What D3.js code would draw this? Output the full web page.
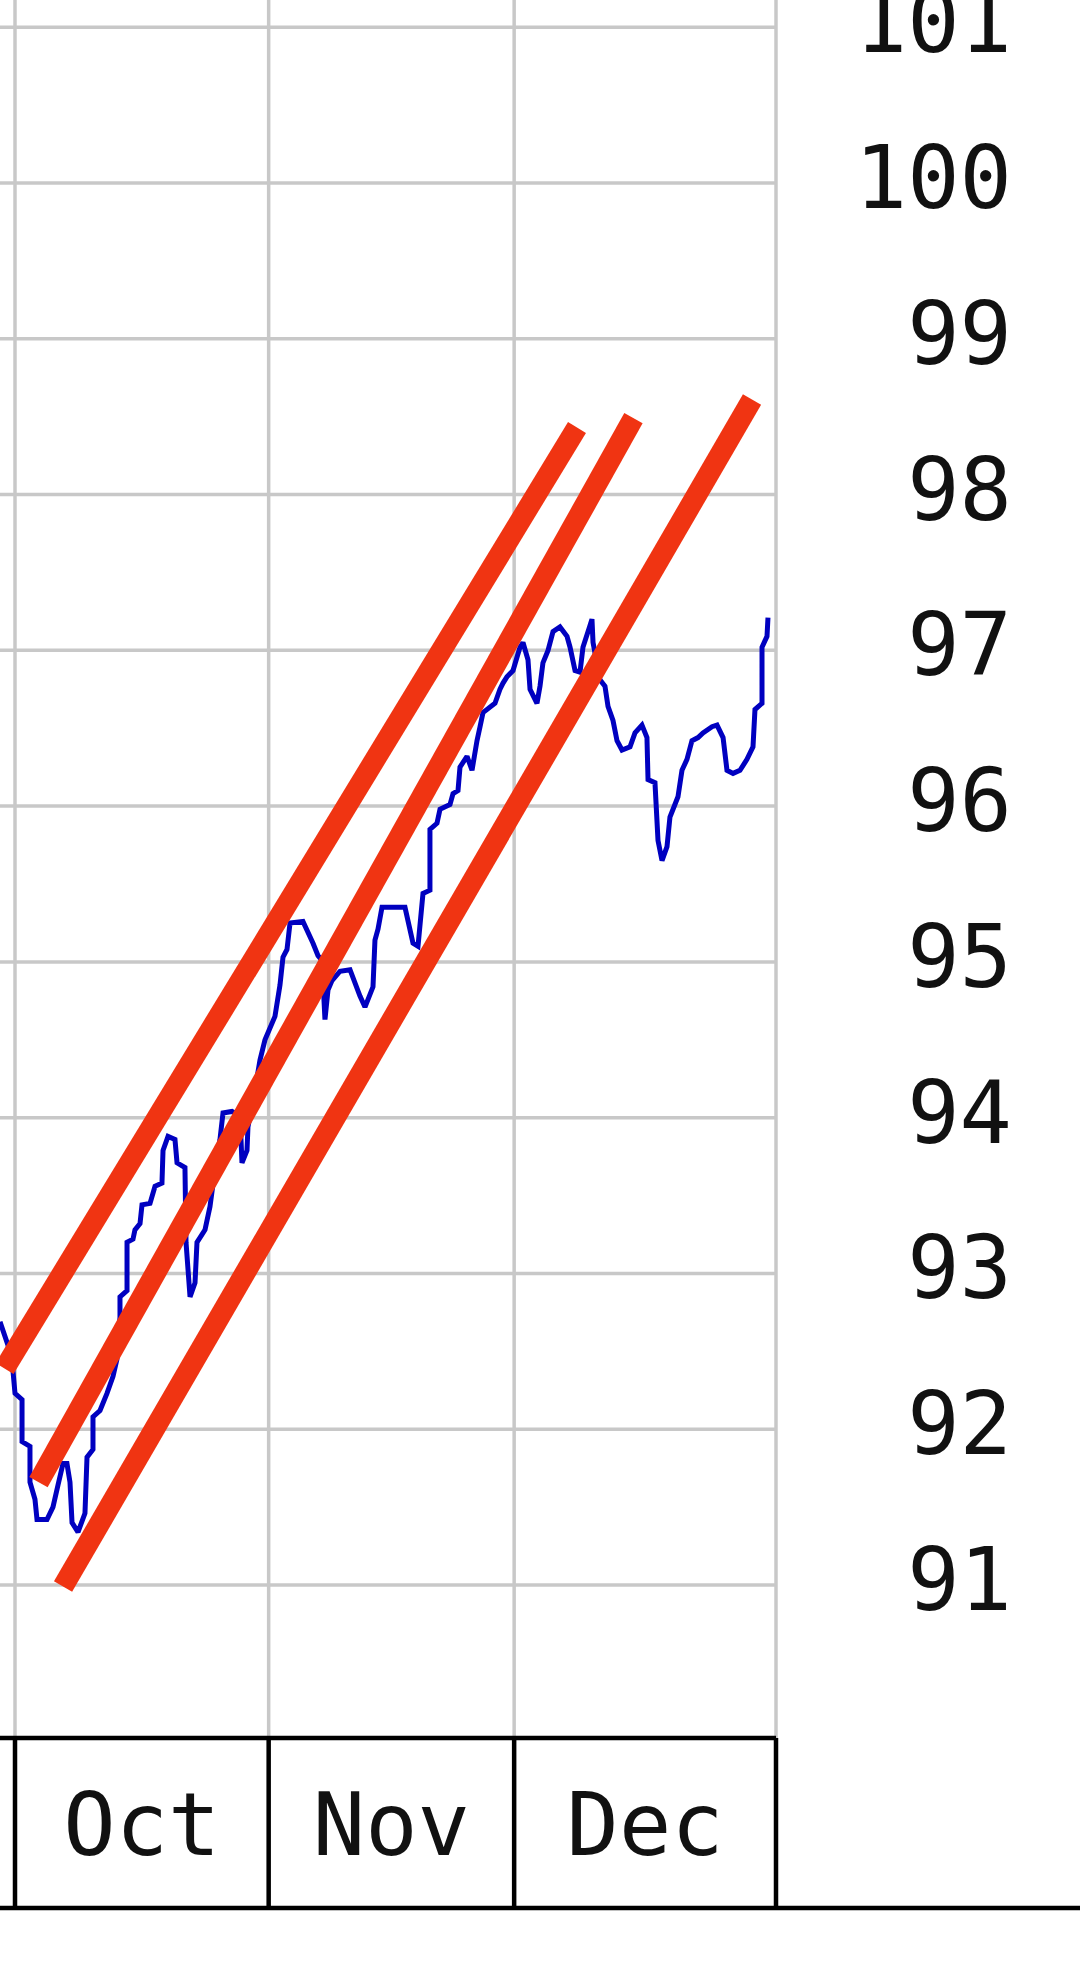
<!DOCTYPE html>
<html><head><meta charset="utf-8">
<script src="https://cdn.jsdelivr.net/npm/d3@7"></script>
<style>html,body{margin:0;padding:0;background:#fff;overflow:hidden;} svg{display:block;}</style>
</head><body><svg id="chart" width="1080" height="1975"></svg>
<script>
// ---- data ----
const monthLabels = ["Oct", "Nov", "Dec"];
const monthStarts = ["2017-10-01", "2017-11-01", "2017-12-01"];
const axisEnd = "2018-01-02";
const yTicks = [91, 92, 93, 94, 95, 96, 97, 98, 99, 100, 101];

// days after Oct 1 (fractional, intraday) and price
const dayOffsets = [-1.83,-0.86,-0.24,0,0.86,0.86,1.83,1.83,2.44,2.69,3.91,4.64,5.25,5.87,6.35,6.72,6.97,7.70,8.55,8.80,
  9.53,9.53,10.39,11.24,11.98,12.46,12.83,12.83,13.69,13.69,14.42,14.66,15.28,15.52,16.50,17.11,17.96,18.09,18.70,19.55,
  19.80,20.77,20.90,21.39,22.00,22.24,23.22,23.83,24.44,25.05,25.42,26.52,27.50,27.74,28.35,28.47,29.33,29.94,30.55,31.77,
  32.38,32.75,33.24,33.61,35.19,36.42,37.03,37.52,37.88,38.25,38.74,39.72,40.94,42.16,42.77,43.75,43.99,44.36,44.85,47.66,
  48.64,49.25,49.86,50.71,50.71,51.57,51.94,53.16,53.53,54.14,54.38,55.24,55.85,56.46,56.83,57.19,58.66,59.27,59.64,60.12,
  60.86,61.71,62.08,62.69,62.94,63.79,64.16,64.52,65.14,65.75,66.60,67.46,67.83,68.44,69.05,69.41,70.27,70.51,70.64,71.49,
  72.10,72.47,73.08,73.57,74.18,75.16,75.77,76.62,77.23,77.36,78.21,78.58,79.07,79.68,80.04,81.02,81.51,82.12,82.73,83.47,
  84.08,85.18,85.79,86.53,87.01,87.75,88.60,89.45,90.19,90.43,91.29,91.29,91.90,92.02];
const closeValues = [92.69,92.54,92.37,92.23,92.19,91.92,91.89,91.66,91.55,91.42,91.42,91.50,91.64,91.78,91.78,91.66,91.40,91.34,91.46,91.82,
  91.87,92.08,92.12,92.23,92.34,92.45,92.72,92.85,92.89,93.20,93.22,93.28,93.32,93.44,93.45,93.56,93.58,93.79,93.88,93.86,
  93.71,93.68,93.20,92.85,92.94,93.20,93.28,93.43,93.67,93.86,94.03,94.04,94.01,93.71,93.79,93.94,94.18,94.37,94.50,94.65,
  94.85,95.03,95.08,95.25,95.26,95.12,95.04,95.01,94.63,94.82,94.88,94.94,94.95,94.78,94.71,94.84,95.14,95.21,95.35,95.35,
  95.12,95.10,95.44,95.46,95.85,95.89,95.98,96.01,96.08,96.10,96.25,96.32,96.23,96.42,96.51,96.60,96.66,96.75,96.79,96.83,
  96.87,97.02,97.05,96.94,96.75,96.66,96.77,96.92,97.00,97.12,97.15,97.09,97.02,96.87,96.86,97.02,97.16,97.20,97.05,96.81,
  96.77,96.64,96.55,96.42,96.36,96.38,96.47,96.52,96.44,96.17,96.15,95.78,95.65,95.74,95.93,96.06,96.23,96.30,96.42,96.44,
  96.47,96.51,96.52,96.44,96.23,96.21,96.23,96.30,96.38,96.62,96.66,97.02,97.09,97.21];

// hand-drawn channel lines
const channelStartDay = [-1.28, 2.87, 5.87];
const channelStartValue = [92.39, 91.66, 90.99];
const channelEndDay = [68.68, 75.58, 90.07];
const channelEndValue = [98.43, 98.49, 98.61];

// ---- layout ----
const W = 1080;
const plotLeft = 15, plotRight = 776, plotBottom = 1738, boxBottom = 1908;
const parse = d3.utcParse("%Y-%m-%d");
const base = parse(monthStarts[0]);
const toDate = d => new Date(base.getTime() + d * 864e5);
const endDate = parse(axisEnd);
const x = d3.scaleUtc().domain([base, endDate]).range([plotLeft, plotRight]);
const y = d3.scaleLinear().domain([91, 100]).range([1585, 183]);

const svg = d3.select("#chart");
const font = "'DejaVu Sans Mono', 'Liberation Mono', monospace";

svg.append("rect").attr("width", W).attr("height", 1975).attr("fill", "#fff");

// gridlines
const grid = svg.append("g").attr("stroke", "#c8c8c8").attr("stroke-width", 3.5);
grid.selectAll("line.h").data(yTicks).join("line")
  .attr("x1", 0).attr("x2", plotRight)
  .attr("y1", d => y(d)).attr("y2", d => y(d));
const boundaries = monthStarts.map(parse).concat([endDate]);
grid.selectAll("line.v").data(boundaries).join("line")
  .attr("x1", d => x(d)).attr("x2", d => x(d))
  .attr("y1", 0).attr("y2", plotBottom);

// clip
svg.append("clipPath").attr("id", "plotclip").append("rect")
  .attr("x", 0).attr("y", 0).attr("width", plotRight).attr("height", plotBottom);

// price line
const pts = dayOffsets.map((d, i) => [toDate(d), closeValues[i]]);
const line = d3.line().x(d => x(d[0])).y(d => y(d[1]));
svg.append("path").attr("clip-path", "url(#plotclip)")
  .attr("d", line(pts)).attr("fill", "none")
  .attr("stroke", "#0000c0").attr("stroke-width", 5)
  .attr("stroke-linejoin", "miter").attr("stroke-miterlimit", 2);

// channel lines
svg.append("g").selectAll("line").data(channelStartDay).join("line")
  .attr("x1", (d, i) => x(toDate(channelStartDay[i])))
  .attr("y1", (d, i) => y(channelStartValue[i]))
  .attr("x2", (d, i) => x(toDate(channelEndDay[i])))
  .attr("y2", (d, i) => y(channelEndValue[i]))
  .attr("stroke", "#f03412").attr("stroke-width", 21).attr("stroke-linecap", "butt");

// month box
const box = svg.append("g").attr("stroke", "#000").attr("stroke-width", 4.5);
box.append("line").attr("x1", 0).attr("x2", plotRight).attr("y1", plotBottom).attr("y2", plotBottom);
box.append("line").attr("x1", 0).attr("x2", W).attr("y1", boxBottom).attr("y2", boxBottom);
box.selectAll("line.sep").data(boundaries).join("line")
  .attr("x1", d => x(d)).attr("x2", d => x(d))
  .attr("y1", plotBottom).attr("y2", boxBottom);

// month labels
svg.append("g").selectAll("text").data(monthLabels).join("text")
  .attr("x", (d, i) => (x(boundaries[i]) + x(boundaries[i + 1])) / 2)
  .attr("y", 1855)
  .attr("text-anchor", "middle")
  .attr("font-family", font).attr("font-size", 87).attr("fill", "#111")
  .text(d => d);

// y labels
svg.append("g").selectAll("text").data(yTicks).join("text")
  .attr("x", 1012).attr("y", d => y(d) + 25)
  .attr("text-anchor", "end")
  .attr("font-family", font).attr("font-size", 87).attr("fill", "#111")
  .text(d => d);
</script>
</body></html>
